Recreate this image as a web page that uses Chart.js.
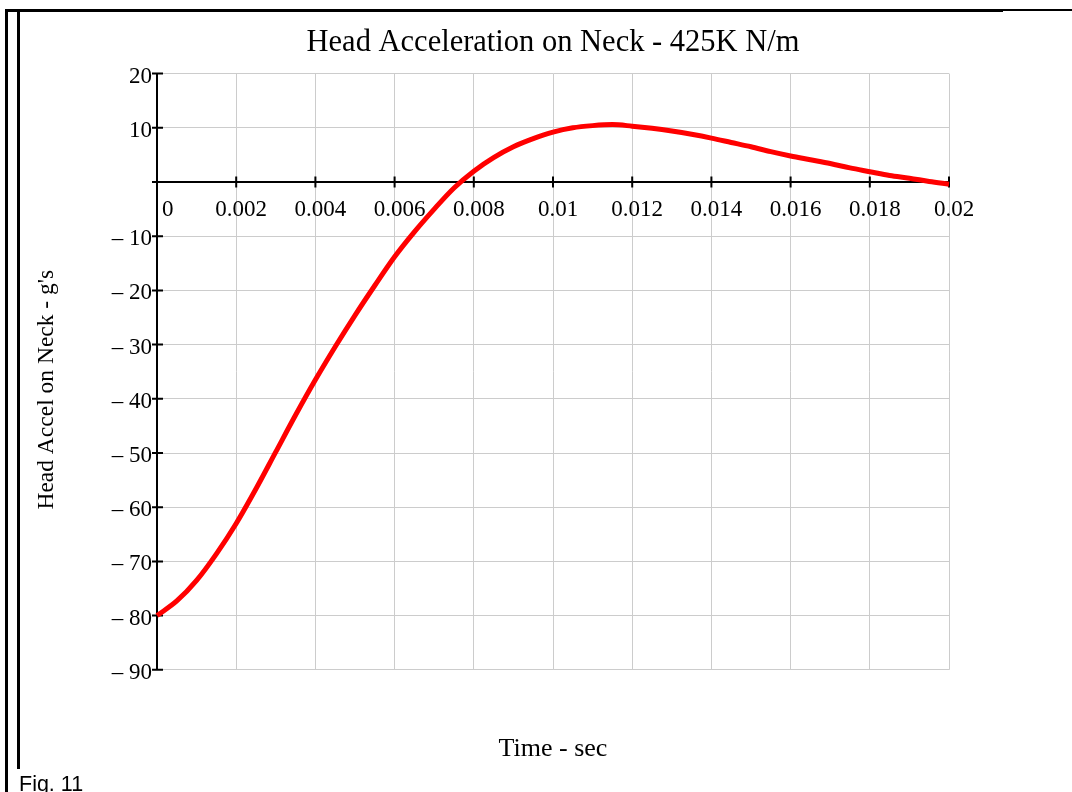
<!DOCTYPE html>
<html>
<head>
<meta charset="utf-8">
<script src="https://cdn.jsdelivr.net/npm/chart.js@4/dist/chart.umd.min.js"></script>
<style>
  html, body { margin: 0; padding: 0; background: #fff; }
  body { width: 1072px; height: 792px; position: relative; overflow: hidden; }
  #plot { position: absolute; left: 0; top: 0; }
  .rule { position: absolute; background: #000; }
  #figLabel {
    position: absolute; left: 19px; top: 771px;
    font: 21.5px "Liberation Sans", Arial, sans-serif; color: #000; line-height: 26px;
  }
</style>
</head>
<body>
<canvas id="plot" width="1072" height="792"></canvas>
<!-- page frame -->
<div class="rule" style="left:5px; top:9px; width:998px; height:3px;"></div>
<div class="rule" style="left:1003px; top:9px; width:69px; height:2px;"></div>
<div class="rule" style="left:5px; top:9px; width:3px; height:783px;"></div>
<div class="rule" style="left:17px; top:11px; width:3px; height:758px;"></div>
<div id="figLabel">Fig. 11</div>

<script>
// Head acceleration response (g's) over the first 20 ms
const timeSec = [
  0, 0.0005, 0.001, 0.0015, 0.002, 0.0025, 0.003, 0.0035, 0.004, 0.0045,
  0.005, 0.0055, 0.006, 0.0065, 0.007, 0.0075, 0.008, 0.0085, 0.009, 0.0095,
  0.01, 0.0105, 0.011, 0.0115, 0.012, 0.0125, 0.013, 0.0135, 0.014, 0.0145,
  0.015, 0.0155, 0.016, 0.0165, 0.017, 0.0175, 0.018, 0.0185, 0.019, 0.0195, 0.02
];
const headAccelG = [
  -80, -77.3, -73.5, -68.6, -63.0, -56.6, -49.8, -43.0, -36.5, -30.4,
  -24.6, -19.1, -13.8, -9.2, -5.0, -1.1, 2.0, 4.5, 6.5, 8.0,
  9.2, 10.0, 10.4, 10.6, 10.3, 9.9, 9.4, 8.8, 8.1, 7.3,
  6.5, 5.6, 4.8, 4.1, 3.4, 2.6, 1.9, 1.2, 0.7, 0.1, -0.4
];

const xTickValues = [0, 0.002, 0.004, 0.006, 0.008, 0.01, 0.012, 0.014, 0.016, 0.018, 0.02];
const xTickLabels = ['0', '0.002', '0.004', '0.006', '0.008', '0.01', '0.012', '0.014', '0.016', '0.018', '0.02'];
const yTickValues = [-90, -80, -70, -60, -50, -40, -30, -20, -10, 0, 10, 20];
const yTickLabels = ['\u2013 90', '\u2013 80', '\u2013 70', '\u2013 60', '\u2013 50', '\u2013 40', '\u2013 30', '\u2013 20', '\u2013 10', '', '10', '20'];

const chartTitle = 'Head Acceleration on Neck - 425K N/m';
const xTitle = 'Time - sec';
const yTitle = "Head Accel on Neck - g's";

const SERIF = '"Liberation Serif", "Times New Roman", serif';
const GRID = '#cccccc';

// Short black tick marks crossing both axes, plus the rotated y-axis title
const axisMarks = {
  id: 'axisMarks',
  beforeDatasetsDraw(chart) {
    const { ctx, scales: { x, y } } = chart;
    const x0 = x.getPixelForValue(0);
    const y0 = y.getPixelForValue(0);
    ctx.save();
    ctx.strokeStyle = '#000';
    ctx.lineWidth = 2;
    ctx.beginPath();
    y.ticks.forEach(t => {
      const py = y.getPixelForValue(t.value);
      ctx.moveTo(x0 - 5, py);
      ctx.lineTo(x0 + 6, py);
    });
    x.ticks.forEach(t => {
      const px = x.getPixelForValue(t.value);
      ctx.moveTo(px, y0 - 5.5);
      ctx.lineTo(px, y0 + 5.5);
    });
    ctx.stroke();

    ctx.translate(x0 - 110, (y.top + y.bottom) / 2 + 18);
    ctx.rotate(-Math.PI / 2);
    ctx.font = '23.5px ' + SERIF;
    ctx.fillStyle = '#000';
    ctx.textAlign = 'center';
    ctx.textBaseline = 'middle';
    ctx.fillText(yTitle, 0, 0);
    ctx.restore();
  }
};

new Chart(document.getElementById('plot'), {
  type: 'line',
  data: {
    labels: timeSec,
    datasets: [{
      data: timeSec.map((t, i) => ({ x: t, y: headAccelG[i] })),
      borderColor: '#ff0000',
      borderWidth: 5,
      pointRadius: 0,
      fill: false,
      cubicInterpolationMode: 'monotone',
      clip: false
    }]
  },
  options: {
    responsive: false,
    animation: false,
    devicePixelRatio: 1,
    layout: { padding: { left: 97, right: 123, top: 13, bottom: 14 } },
    plugins: {
      legend: { display: false },
      tooltip: { enabled: false },
      title: {
        display: true,
        text: chartTitle,
        fullSize: false,
        color: '#000',
        font: { family: SERIF, size: 30.5, weight: 'normal' },
        padding: { top: 12, bottom: 12 }
      },
      subtitle: {
        display: true,
        text: xTitle,
        position: 'bottom',
        fullSize: false,
        color: '#000',
        font: { family: SERIF, size: 26, weight: 'normal' },
        padding: { top: 64, bottom: 13 }
      }
    },
    scales: {
      x: {
        type: 'linear',
        min: 0,
        max: 0.02,
        position: { y: 0 },
        afterBuildTicks: s => { s.ticks = xTickValues.map(v => ({ value: v })); },
        grid: { color: GRID, lineWidth: 1, drawTicks: false },
        border: { color: '#000', width: 2 },
        ticks: {
          autoSkip: false,
          maxRotation: 0,
          padding: 14,
          labelOffset: 5,
          color: '#000',
          font: { family: SERIF, size: 23 },
          // the origin label sits a little clear of the vertical axis
          callback: (v, i) => (i === 0 ? '\u2002' : '') + xTickLabels[i]
        }
      },
      y: {
        type: 'linear',
        min: -90,
        max: 20,
        position: 'left',
        afterBuildTicks: s => { s.ticks = yTickValues.map(v => ({ value: v })); },
        afterFit: s => { s.width = 60; },
        grid: { color: GRID, lineWidth: 1, drawTicks: false },
        border: { color: '#000', width: 2 },
        ticks: {
          autoSkip: false,
          padding: 5,
          labelOffset: 3,
          color: '#000',
          font: { family: SERIF, size: 23 },
          callback: (v, i) => yTickLabels[i]
        }
      }
    }
  },
  plugins: [axisMarks]
});
</script>
</body>
</html>
